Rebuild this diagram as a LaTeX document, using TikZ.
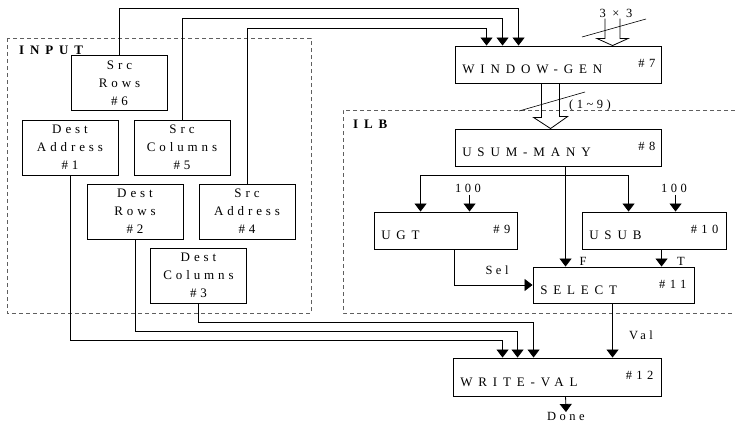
\documentclass[tikz,border=0pt]{standalone}
\usepackage{fontspec}
\setmainfont{Liberation Serif}
\newfontfamily\modfont[LetterSpace=45]{Liberation Serif}
\newfontfamily\boxfont[LetterSpace=30]{Liberation Serif}
\newfontfamily\numfont[LetterSpace=35]{Liberation Serif}
\newfontfamily\etfont[LetterSpace=28]{Liberation Serif}
\usetikzlibrary{arrows.meta,calc}
\definecolor{gris}{RGB}{95,95,95}
\tikzset{
  modulo/.style={draw, line width=0.9pt, inner sep=0pt},
  entrada/.style={draw, line width=0.9pt, minimum width=96pt, minimum height=55pt, inner sep=0pt, align=center, font=\boxfont\fontsize{13}{18}\selectfont},
  nombre/.style={anchor=base west, inner sep=0pt, font=\modfont\fontsize{13}{15}\selectfont},
  numero/.style={anchor=east, inner sep=0pt, font=\numfont\fontsize{12.5}{14}\selectfont},
  et/.style={inner sep=0pt, font=\etfont\fontsize{12.5}{14}\selectfont},
  zonaet/.style={anchor=west, inner sep=0pt, font=\modfont\bfseries\fontsize{13}{15}\selectfont},
  fl/.style={-{Triangle[width=12pt,length=8pt]}, line width=0.8pt},
  hueco/.style={line width=0.8pt},
  zona/.style={gris, line width=0.8pt, dash pattern=on 4pt off 3pt},
}

\begin{document}
\begin{tikzpicture}[x=1pt, y=-1pt]
  \useasboundingbox (0,0) rectangle (735,423);
  % regions
  \draw[zona] (7,38) rectangle (311,313);
  \draw[zona] (735,110) -- (343,110) -- (343,313) -- (735,313);
  \node[zonaet] (tinput) at (19,50) {INPUT};
  \node[zonaet] (tilb) at (353,124) {ILB};
  % input blocks
  \node[entrada] (srows) at (119.5,83)  {Src\\Rows\\\#6};
  \node[entrada] (daddr) at (70,147.5)  {Dest\\Address\\\#1};
  \node[entrada] (scols) at (182,147.5) {Src\\Columns\\\#5};
  \node[entrada] (drows) at (135,211.5) {Dest\\Rows\\\#2};
  \node[entrada] (saddr) at (247,211.5) {Src\\Address\\\#4};
  \node[entrada] (dcols) at (198.5,275.5) {Dest\\Columns\\\#3};
  % modules
  \node[modulo, minimum width=206pt, minimum height=37pt] (wg)   at (558,64.5)  {};
  \node[modulo, minimum width=206pt, minimum height=37pt] (usum) at (558,147.5) {};
  \node[modulo, minimum width=143pt, minimum height=37pt] (ugt)  at (445.5,230.5) {};
  \node[modulo, minimum width=144pt, minimum height=37pt] (usub) at (654,230.5) {};
  \node[modulo, minimum width=161pt, minimum height=36pt] (sel)  at (613.5,285) {};
  \node[modulo, minimum width=208pt, minimum height=38pt] (wv)   at (557,377) {};
  \node[nombre] (twg)   at ([shift={(7.5pt,9.5pt)}]wg.south west)   {WINDOW-GEN};
  \node[nombre] (tusum) at ([shift={(7.5pt,9.5pt)}]usum.south west) {USUM-MANY};
  \node[nombre] (tugt)  at ([shift={(7.5pt,10pt)}]ugt.south west)   {UGT};
  \node[nombre] (tusub) at ([shift={(7.5pt,10pt)}]usub.south west)  {USUB};
  \node[nombre] (tsel)  at ([shift={(7.5pt,9pt)}]sel.south west)    {SELECT};
  \node[nombre] (twv)   at ([shift={(7.5pt,10pt)}]wv.south west)    {WRITE-VAL};
  \node[numero] (nwg)   at ([shift={(-6pt,-17.5pt)}]wg.north east)   {\#7};
  \node[numero] (nusum) at ([shift={(-6pt,-17.5pt)}]usum.north east) {\#8};
  \node[numero] (nugt)  at ([shift={(-7pt,-17.5pt)}]ugt.north east)  {\#9};
  \node[numero] (nusub) at ([shift={(-8pt,-17.5pt)}]usub.north east) {\#10};
  \node[numero] (nsel)  at ([shift={(-8pt,-18pt)}]sel.north east)    {\#11};
  \node[numero] (nwv)   at ([shift={(-8pt,-18pt)}]wv.north east)     {\#12};
  % sources to WINDOW-GEN
  \draw[fl] (srows.north) -- ++(0,-47) -| ([xshift=64pt]wg.north west);
  \draw[fl] (scols.north) -- ++(0,-101) -| ([xshift=48pt]wg.north west);
  \draw[fl] (saddr.north) -- ++(0,-155) -| ([xshift=32pt]wg.north west);
  % 3x3 bus in
  \coordinate (tres) at ([xshift=158pt]wg.north west);
  \draw[hueco] ($(tres)+(-7.5,-27)$) -- ($(tres)+(-7.5,-7)$) -- ($(tres)+(-15.5,-7)$) -- (tres)
    -- ($(tres)+(15.5,-7)$) -- ($(tres)+(7.5,-7)$) -- ($(tres)+(7.5,-27)$);
  \draw[line width=0.6pt] (582,37) -- (646,19);
  \node[et] (ttres) at (616,13) {3 × 3};
  % window bus
  \draw[hueco] ([xshift=87pt]wg.south west) -- ++(0,34) -- ++(-8,0) -- ([xshift=96pt]usum.north west)
    -- ++(17,-12) -- ++(-8,0) -- ([xshift=105pt]wg.south west);
  \draw[line width=0.6pt] (519,111) -- (585,92);
  \node[et] (tnueve) at (590,105) {(1\textasciitilde 9)};
  % ILB
  \draw[fl] ([xshift=111pt]usum.south west) -- ([xshift=33pt]sel.north west);
  \draw[fl] ([xshift=111pt]usum.south west) ++(0,9) -| ([xshift=47pt]ugt.north west);
  \draw[fl] ([xshift=111pt]usum.south west) ++(0,9) -| ([xshift=47pt]usub.north west);
  \node[et] (cien1) at (468,188) {100};
  \node[et] (cien2) at (674,188) {100};
  \draw[fl] ([xshift=96pt,yshift=17pt]ugt.north west) -- ([xshift=96pt]ugt.north west);
  \draw[fl] ([xshift=94pt,yshift=17pt]usub.north west) -- ([xshift=94pt]usub.north west);
  \draw[fl] ([xshift=81pt]ugt.south west) |- (sel.west);
  \draw[fl] ([xshift=80pt]usub.south west) -- ([xshift=129pt]sel.north west);
  \node[et] (tsel2) at (497,270) {Sel};
  \node[et] (tf) at (583,261) {F};
  \node[et] (tt) at (681,261) {T};
  % destination to WRITE-VAL
  \draw[fl] (daddr.south) -- ++(0,165) -| ([xshift=50pt]wv.north west);
  \draw[fl] (drows.south) -- ++(0,92) -| ([xshift=65pt]wv.north west);
  \draw[fl] (dcols.south) -- ++(0,19) -| ([xshift=81pt]wv.north west);
  \draw[fl] ([xshift=80pt]sel.south west) -- ([xshift=160pt]wv.north west);
  \node[et] (tval) at (641,335) {Val};
  \node[et, anchor=north] (done) at (566,412) {Done};
  \draw[fl] ([xshift=113pt]wv.south west) -- (done.north);
\end{tikzpicture}
\end{document}
